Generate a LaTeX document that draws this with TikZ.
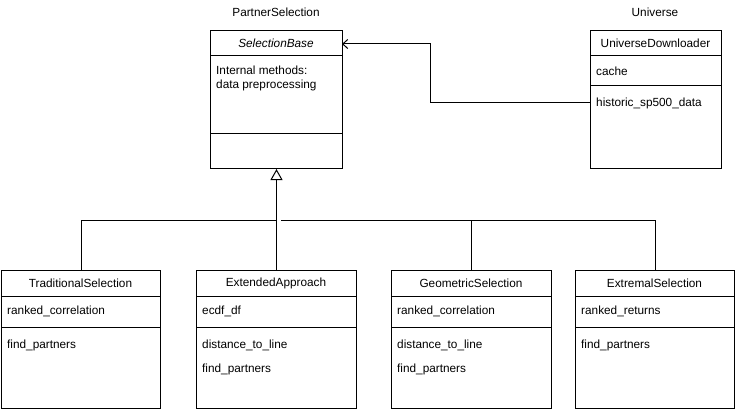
\documentclass[tikz,border=0pt]{standalone}
\usepackage{fontspec}
\setmainfont{Liberation Sans}
\usepackage{tikz}
\usetikzlibrary{positioning,arrows.meta,calc}
\tikzset{
    class box/.style={draw, line width=1pt, anchor=north west, minimum height=138pt, inner sep=0pt},
    divider/.style={line width=1pt},
    class title/.style={inner sep=0pt, font=\fontsize{11.8}{14}\selectfont},
    member/.style={anchor=west, inner sep=0pt, font=\fontsize{11.8}{14}\selectfont},
    package label/.style={inner sep=0pt, font=\fontsize{11.8}{14}\selectfont},
    inherit/.style={line width=1pt, -{Triangle[open, length=11pt, width=12pt, line width=1pt]}},
    association/.style={line width=1pt, -{Straight Barb[length=5pt, width=9pt, line width=1pt]}},
    link/.style={line width=1pt}
}

\begin{document}
\begin{tikzpicture}[x=1pt, y=-1pt]
    \useasboundingbox (0,0) rectangle (736,409);

    % Package labels
    \node[package label] (pkg-partner) at (276,12) {PartnerSelection};
    \node[package label] (pkg-universe) at (655,12) {Universe};

    % Base class
    \node[class box, minimum width=132pt] (base) at (210,30) {};
    \node[class title, font=\fontsize{11.8}{14}\selectfont\itshape] (base-title) at (276,43) {SelectionBase};
    \draw[divider] (210,56) -- (342,56);
    \node[member, anchor=north west, align=left, font=\fontsize{11.8}{14}\selectfont] (base-attr) at (216,66) {Internal methods:\\data preprocessing};
    \draw[divider] (210,134) -- (342,134);

    % Universe downloader
    \node[class box, minimum width=131pt] (univ) at (590,30) {};
    \node[class title] (univ-title) at (655.5,43) {UniverseDownloader};
    \draw[divider] (590,56) -- (721,56);
    \node[member] (univ-attr) at (596,71) {cache};
    \draw[divider] (590,86) -- (721,86);
    \node[member] (univ-meth) at (596,103) {historic\_sp500\_data};

    % Derived classes
    \foreach \n/\x/\w/\t/\a/\ma/\mb in {
        trad/1/159/TraditionalSelection/ranked\_correlation/find\_partners/{},
        ext/196/160/ExtendedApproach/ecdf\_df/distance\_to\_line/find\_partners,
        geo/391/160/GeometricSelection/ranked\_correlation/distance\_to\_line/find\_partners,
        extr/575/159/ExtremalSelection/ranked\_returns/find\_partners/{}} {
        \node[class box, minimum width=\w pt] (\n) at (\x,270) {};
        \node[class title] (\n-title) at ({\x+\w/2},283) {\t};
        \draw[divider] (\x,296) -- ({\x+\w},296);
        \node[member] (\n-attr) at ({\x+6},311) {\a};
        \draw[divider] (\x,327) -- ({\x+\w},327);
        \node[member] (\n-m1) at ({\x+6},345) {\ma};
        \node[member] (\n-m2) at ({\x+6},369) {\mb};
    }

    % Inheritance
    \coordinate (jump) at (281,220);
    \draw[inherit] (ext.north) -- (base.south);
    \draw[link] (trad.north) |- (ext.north |- jump);
    \draw[link] (geo.north) |- (jump);
    \draw[link] (extr.north) |- (jump);

    % Association
    \coordinate (univ-out) at (590,103);
    \coordinate (bend) at (430,44);
    \coordinate (base-in) at (342,44);
    \draw[association] (univ-out) -| (bend) -- (base-in);
\end{tikzpicture}
\end{document}
